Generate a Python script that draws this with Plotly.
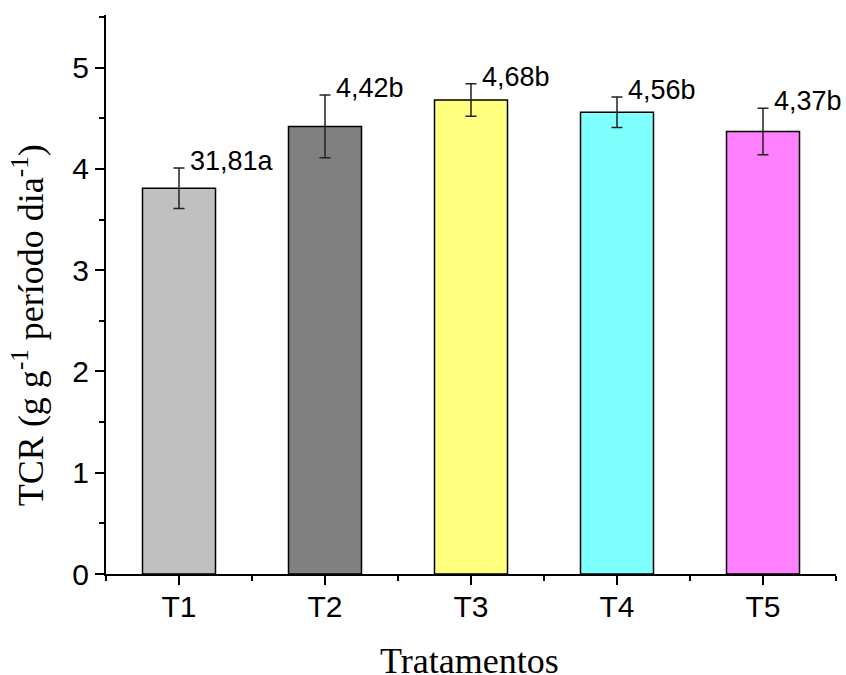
import plotly.graph_objects as go

categories = ["T1", "T2", "T3", "T4", "T5"]
values = [3.81, 4.42, 4.68, 4.56, 4.37]
errors = [0.20, 0.31, 0.16, 0.15, 0.23]
labels = ["31,81a", "4,42b", "4,68b", "4,56b", "4,37b"]
colors = ["#C0C0C0", "#808080", "#FFFF80", "#80FFFF", "#FF80FF"]

xpos = list(range(1, len(categories) + 1))

SANS = "Liberation Sans"
SERIF = "Liberation Serif"

fig = go.Figure()
fig.add_trace(go.Bar(
    x=xpos, y=values, width=0.5,
    marker=dict(color=colors, line=dict(color="black", width=1.5)),
    error_y=dict(type="data", array=errors, visible=True,
                 color="#222222", thickness=1.5, width=5.5),
    showlegend=False,
))

for x, v, e, t in zip(xpos, values, errors, labels):
    fig.add_annotation(x=x, y=v + e, text=t, showarrow=False,
                       xanchor="left", yanchor="middle", xshift=9, yshift=7,
                       font=dict(family=SANS, size=27, color="black"))

# axis titles as annotations (fixed placement, no automargin)
fig.add_annotation(xref="paper", yref="paper", x=-0.107, y=0.445,
                   text="TCR (g g<sup>-1</sup> período dia<sup>-1</sup>)",
                   textangle=-90, showarrow=False, xanchor="center", yanchor="middle",
                   font=dict(family=SERIF, size=36, color="black"))
fig.add_annotation(xref="paper", yref="paper", x=0.4986, y=-0.155,
                   text="Tratamentos", showarrow=False,
                   xanchor="center", yanchor="middle",
                   font=dict(family=SERIF, size=36, color="black"))

fig.update_layout(
    width=846, height=675,
    margin=dict(l=106, r=10, t=15, b=101, autoexpand=False),
    paper_bgcolor="white", plot_bgcolor="white",
    font=dict(family=SANS, color="black"),
    xaxis=dict(
        range=[0.5, 5.5], tickvals=xpos, ticktext=categories,
        ticks="outside", ticklen=9, tickwidth=2, tickcolor="black",
        showline=True, linecolor="black", linewidth=2,
        showgrid=False, zeroline=False, automargin=False,
        ticklabelstandoff=-4,
        tickfont=dict(size=30, family=SANS, color="black"),
        minor=dict(tickvals=[0.5, 1.5, 2.5, 3.5, 4.5, 5.5], ticks="outside",
                   ticklen=5, tickwidth=2, tickcolor="black"),
    ),
    yaxis=dict(
        range=[0, 5.52], dtick=1, tick0=0,
        ticks="outside", ticklen=9, tickwidth=2, tickcolor="black",
        showline=True, linecolor="black", linewidth=2,
        showgrid=False, zeroline=False, automargin=False,
        tickfont=dict(size=30, family=SANS, color="black"),
        minor=dict(dtick=0.5, ticks="outside", ticklen=5, tickwidth=2, tickcolor="black"),
    ),
)

fig.write_html("out.html", config={"displayModeBar": False},
               post_script="document.body.style.margin='0';")
